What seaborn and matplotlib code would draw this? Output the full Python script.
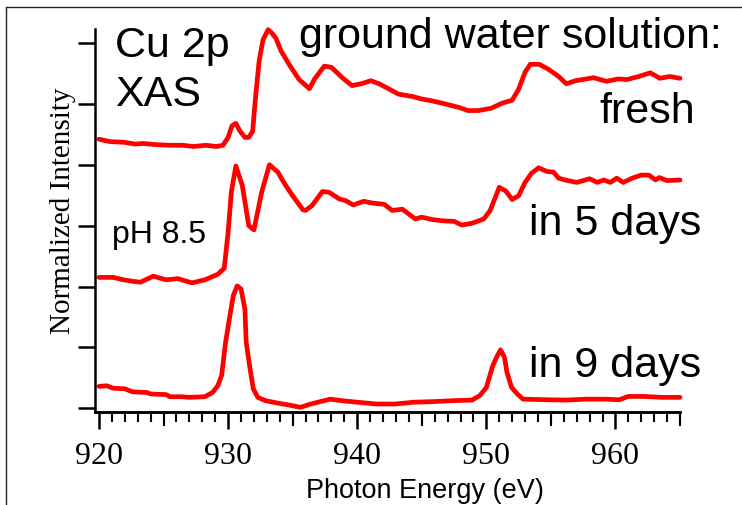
import numpy as np
import pandas as pd
import matplotlib
matplotlib.use("Agg")
import matplotlib.pyplot as plt
from matplotlib.lines import Line2D
from matplotlib.ticker import MultipleLocator
import seaborn as sns

# Cu 2p XAS spectra, offset vertically (normalized intensity, arbitrary units)
fresh_energy = [920.0, 920.85, 921.9, 922.8, 923.4, 924.45, 925.5, 926.5, 927.3, 928.3,
                929.1, 929.6, 930.0, 930.3, 930.6, 930.9, 931.3, 931.6, 931.9, 932.1,
                932.4, 932.7, 933.1, 933.4, 933.7, 934.1, 934.75, 935.5, 936.3, 936.7,
                937.45, 938.0, 938.9, 939.6, 940.3, 941.05, 941.7, 942.5, 943.2, 944.3,
                945.0, 945.8, 946.8, 947.9, 948.6, 949.4, 950.4, 951.2, 952.0, 952.5,
                953.0, 953.4, 954.1, 954.8, 955.6, 956.2, 956.9, 958.3, 959.3, 960.2,
                960.9, 961.8, 962.7, 963.45, 964.2, 965.0]
fresh_intensity = [4.42, 4.38, 4.37, 4.34, 4.35, 4.33, 4.32, 4.32, 4.30, 4.32,
                   4.30, 4.32, 4.45, 4.64, 4.68, 4.56, 4.45, 4.45, 4.55, 5.05,
                   5.70, 6.05, 6.22, 6.16, 6.08, 5.87, 5.64, 5.40, 5.25, 5.41,
                   5.62, 5.60, 5.42, 5.30, 5.33, 5.38, 5.33, 5.24, 5.16, 5.12,
                   5.08, 5.05, 5.00, 4.94, 4.89, 4.89, 4.93, 5.01, 5.06, 5.24,
                   5.52, 5.65, 5.65, 5.57, 5.45, 5.33, 5.38, 5.43, 5.37, 5.41,
                   5.40, 5.45, 5.51, 5.42, 5.45, 5.42]

day5_energy = [920.0, 921.1, 921.9, 922.5, 923.2, 924.2, 925.2, 926.1, 927.2, 928.2,
               929.2, 929.7, 930.0, 930.25, 930.6, 931.1, 931.6, 932.0, 932.6, 933.2,
               933.85, 934.4, 935.0, 935.8, 936.0, 936.5, 937.3, 937.8, 938.6, 939.1,
               939.7, 940.5, 941.2, 942.1, 942.7, 943.5, 944.0, 944.5, 945.0, 945.8,
               946.6, 947.5, 948.1, 948.9, 949.8, 950.3, 951.0, 951.5, 952.0, 952.5,
               953.0, 953.5, 954.05, 954.7, 955.2, 955.6, 956.1, 957.0, 958.0, 958.6,
               959.1, 959.6, 960.1, 960.6, 961.3, 962.0, 962.6, 963.1, 963.4, 964.0,
               965.0]
day5_intensity = [2.15, 2.15, 2.11, 2.09, 2.07, 2.17, 2.11, 2.13, 2.06, 2.11,
                  2.20, 2.30, 2.89, 3.55, 3.98, 3.66, 3.00, 2.93, 3.55, 4.00,
                  3.88, 3.68, 3.49, 3.26, 3.25, 3.33, 3.56, 3.55, 3.44, 3.41,
                  3.34, 3.40, 3.37, 3.35, 3.25, 3.27, 3.19, 3.11, 3.14, 3.10,
                  3.08, 3.07, 3.01, 3.04, 3.11, 3.25, 3.63, 3.57, 3.43, 3.49,
                  3.71, 3.86, 3.95, 3.89, 3.88, 3.78, 3.75, 3.71, 3.77, 3.71,
                  3.75, 3.71, 3.78, 3.71, 3.78, 3.83, 3.83, 3.75, 3.79, 3.74,
                  3.75]

day9_energy = [920.0, 920.6, 921.1, 922.0, 922.6, 923.7, 924.0, 925.2, 925.5, 926.4,
               927.0, 928.2, 928.8, 929.2, 929.5, 929.8, 930.1, 930.4, 930.7, 931.0,
               931.3, 931.4, 931.7, 931.95, 932.3, 932.9, 933.8, 934.7, 935.6, 936.4,
               937.9, 938.8, 940.0, 941.5, 942.9, 944.4, 945.9, 947.4, 948.9, 949.5,
               950.0, 950.5, 950.8, 951.1, 951.4, 951.6, 951.95, 952.4, 952.85, 954.8,
               956.2, 957.7, 959.2, 960.3, 961.0, 962.2, 963.6, 965.0]
day9_intensity = [0.36, 0.37, 0.33, 0.32, 0.27, 0.26, 0.235, 0.225, 0.19, 0.19,
                  0.18, 0.19, 0.26, 0.37, 0.54, 1.08, 1.47, 1.85, 2.01, 1.96,
                  1.63, 1.09, 0.65, 0.32, 0.18, 0.125, 0.087, 0.054, 0.016, 0.07,
                  0.15, 0.125, 0.10, 0.07, 0.07, 0.10, 0.11, 0.125, 0.135, 0.21,
                  0.34, 0.70, 0.84, 0.96, 0.84, 0.59, 0.345, 0.235, 0.15, 0.14,
                  0.135, 0.15, 0.15, 0.14, 0.195, 0.195, 0.18, 0.18]

sample_labels = ["fresh", "in 5 days", "in 9 days"]
x_tick_values = [920, 930, 940, 950, 960]

frames = []
for name, e, i in zip(sample_labels,
                      [fresh_energy, day5_energy, day9_energy],
                      [fresh_intensity, day5_intensity, day9_intensity]):
    frames.append(pd.DataFrame({"energy": e, "intensity": i, "sample": name}))
df = pd.concat(frames, ignore_index=True)

sns.set_style("ticks")
plt.rcParams["font.family"] = ["Liberation Sans", "DejaVu Sans"]
plt.rcParams["text.color"] = "black"
plt.rcParams["xtick.color"] = "black"
plt.rcParams["ytick.color"] = "black"

fig = plt.figure(figsize=(7.42, 5.06), dpi=100)
ax = fig.add_axes([95 / 742, 1 - 412.7 / 506, (680 - 95) / 742, (412.7 - 30) / 506])

sns.lineplot(data=df, x="energy", y="intensity", hue="sample",
             palette=["#ff0000"] * 3, estimator=None, sort=False,
             linewidth=3.4, legend=False, ax=ax)
for ln in ax.get_lines():
    ln.set_clip_on(False)
    ln.set_solid_joinstyle("round")
    ln.set_solid_capstyle("round")

ax.set_xlim(919.69, 965.0)
ax.set_ylim(-0.056, 6.23)
ax.set_xlabel("")
ax.set_ylabel("")

for side in ("top", "right"):
    ax.spines[side].set_visible(False)
for side in ("left", "bottom"):
    ax.spines[side].set_linewidth(1.8)
    ax.spines[side].set_color("black")

ax.set_yticks(range(0, 7))
ax.set_yticklabels([])
ax.tick_params(axis="y", direction="out", length=12, width=1.8, color="black")

ax.set_xticks(x_tick_values)
ax.set_xticklabels([str(v) for v in x_tick_values],
                   family=["Liberation Serif", "DejaVu Serif"], fontsize=23,
                   color="black")
ax.xaxis.set_minor_locator(MultipleLocator(1))
ax.tick_params(axis="x", which="major", direction="out", length=12, width=1.8,
               color="black", pad=9, labelcolor="black")
ax.tick_params(axis="x", which="minor", direction="out", length=7, width=1.5,
               color="black")

# intermediate ticks every 5 eV
sec = ax.secondary_xaxis("bottom")
sec.set_xticks([925, 935, 945, 955, 965])
sec.tick_params(direction="out", length=10, width=1.5, color="black",
                labelbottom=False)
sec.spines["bottom"].set_linewidth(1.8)
sec.spines["bottom"].set_color("black")

big = 31
kw = dict(fontsize=big, va="baseline", color="black", clip_on=False)
ax.text(921.24, 5.785, "Cu 2p", ha="left", **kw)
ax.text(921.24, 4.98, "XAS", ha="left", **kw)
ax.text(935.52, 5.93, "ground water solution:", ha="left", **kw)
ax.text(966.18, 4.70, "fresh", ha="right", **kw)
ax.text(966.64, 2.86, "in 5 days", ha="right", **kw)
ax.text(966.64, 0.532, "in 9 days", ha="right", **kw)
ax.text(920.98, 2.726, "pH 8.5", fontsize=23, ha="left", va="baseline", color="black")

fig.text(425 / 742, 1 - 498 / 506, "Photon Energy (eV)", fontsize=19.5,
         ha="center", va="baseline", color="black")
fig.text(63 / 742, 1 - 210.5 / 506, "Normalized Intensity", fontsize=21,
         family=["Liberation Serif", "DejaVu Serif"], rotation=90,
         ha="center", va="center", color="black")

# outer frame around the figure
fig.add_artist(Line2D([6 / 742, 1.0], [1 - 8 / 506] * 2, transform=fig.transFigure,
                      color="#222222", linewidth=1.0))
fig.add_artist(Line2D([6 / 742] * 2, [0.0, 1 - 8 / 506], transform=fig.transFigure,
                      color="#222222", linewidth=1.0))

fig.savefig("out.png", dpi=100)
